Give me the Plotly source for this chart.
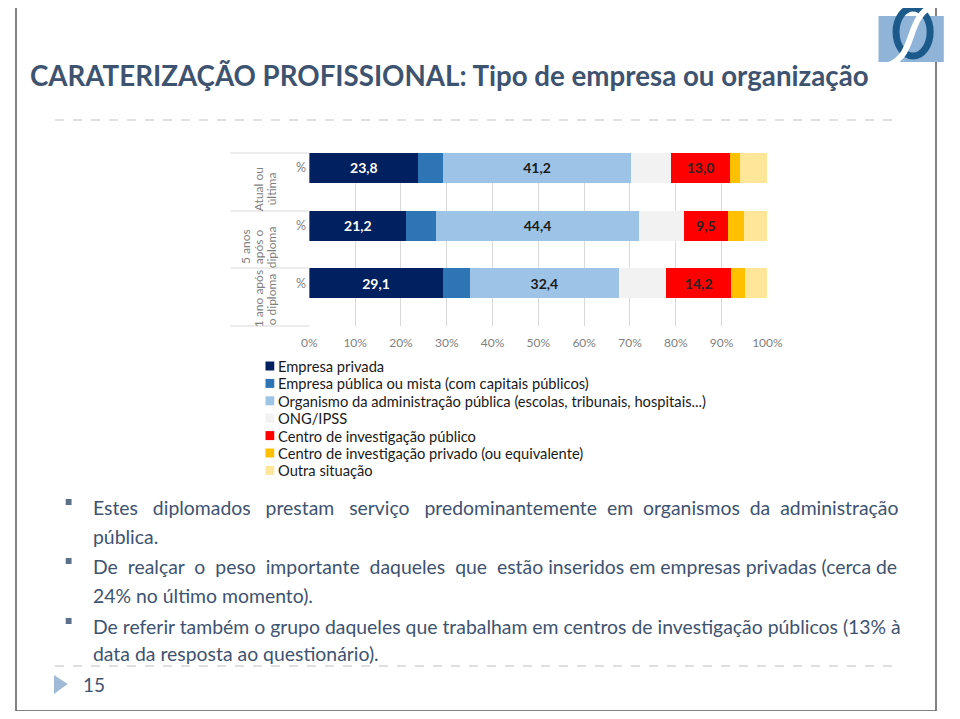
import plotly.graph_objects as go

# the page adds an 8px body margin, so the figure is sized to fit inside the window
OFF = 8
W, H = 960 - 2 * OFF, 719 - 2 * OFF

# data
periods = ['1 ano após o diploma', '5 anos após o diploma', 'Atual ou última']
period_lines = [['1 ano após', 'o diploma'], ['5 anos', 'após o', 'diploma'], ['Atual ou', 'última']]
series = [
    'Empresa privada',
    'Empresa pública ou mista (com capitais públicos)',
    'Organismo da administração pública (escolas, tribunais, hospitais...)',
    'ONG/IPSS',
    'Centro de investigação público',
    'Centro de investigação privado (ou equivalente)',
    'Outra situação',
]
empresa_privada = [29.1, 21.2, 23.8]
empresa_publica = [6.0, 6.4, 5.3]
organismo_admin = [32.4, 44.4, 41.2]
ong_ipss = [10.4, 9.8, 8.6]
inv_publico = [14.2, 9.5, 13.0]
inv_privado = [3.0, 3.6, 2.1]
outra = [4.9, 5.1, 6.0]
values = [empresa_privada, empresa_publica, organismo_admin, ong_ipss,
          inv_publico, inv_privado, outra]
labelled = [True, False, True, False, True, False, False]
colors = ['#002060', '#2e75b6', '#9dc3e6', '#f2f2f2', '#ff0000', '#ffc000', '#ffe699']
text_colors = ['#ffffff', None, '#1a1a1a', None, '#262626', None, None]

bullets = [
    'Estes diplomados prestam serviço predominantemente em organismos da administração',
    'pública.',
    'De realçar o peso importante daqueles que estão inseridos em empresas privadas (cerca de',
    '24% no último momento).',
    'De referir também o grupo daqueles que trabalham em centros de investigação públicos (13% à',
    'data da resposta ao questionário).',
]
extra_spaces = [12, 0, 7, 0, 0, 0]   # rough justification

FONT = 'Lato'
SLATE = '#3e5370'


def px(x):
    return (x - OFF) / W


def py(y):
    return 1 - (y - OFF) / H


def justify(txt, n):
    words = txt.split(' ')
    gaps = len(words) - 1
    if n == 0 or gaps == 0:
        return txt
    out = words[0]
    for k, w in enumerate(words[1:]):
        pad = n // gaps + (1 if k < n % gaps else 0)
        out += ' ' + '&nbsp;' * pad + w
    return out


fig = go.Figure()
for name, vals, lab, col, tcol in zip(series, values, labelled, colors, text_colors):
    fig.add_trace(go.Bar(
        y=periods, x=vals, name=name, orientation='h',
        marker=dict(color=col, line=dict(width=0)),
        width=0.52, offset=-0.02,
        text=[f'{v:.1f}'.replace('.', ',') for v in vals] if lab else None,
        texttemplate='<b>%{text}</b>' if lab else None,
        textposition='inside' if lab else 'none',
        insidetextanchor='middle', textangle=0,
        textfont=dict(family=FONT, size=14, color=tcol or '#000'),
        hoverinfo='skip',
    ))

shapes = []
annotations = []

# slide border (left, right, bottom) and dashed separators
for x0, x1, y0, y1 in ((0, 0, 0, 1), (1, 1, 0, 1), (0, 1, 0, 0)):
    shapes.append(dict(type='line', xref='paper', yref='paper', x0=x0, x1=x1, y0=y0, y1=y1,
                       line=dict(color='#595959', width=1.5)))
for yy in (120, 666):
    shapes.append(dict(type='line', xref='paper', yref='paper', x0=px(48), x1=px(912), y0=py(yy), y1=py(yy),
                       line=dict(color='#bfbfbf', width=1, dash='dash')))

# logo (approximation)
shapes.append(dict(type='rect', xref='paper', yref='paper', x0=px(893), x1=px(960), y0=py(62), y1=py(16),
                   fillcolor='#8fb4d8', line=dict(width=0)))
shapes.append(dict(type='circle', xref='paper', yref='paper', x0=px(911), x1=px(946), y0=py(56), y1=py(8),
                   line=dict(color='#1d5a8c', width=7)))
shapes.append(dict(type='path', xref='paper', yref='paper',
                   path=f'M {px(893)},{py(68)} C {px(935)},{py(62)} {px(918)},{py(20)} {px(948)},{py(6)}',
                   line=dict(color='white', width=6)))

# category axis separators
for yy in (153, 211, 268, 326):
    shapes.append(dict(type='line', xref='paper', yref='paper', x0=px(228), x1=px(309), y0=py(yy), y1=py(yy),
                       line=dict(color='#d9d9d9', width=1)))

label_cy = [299, 247, 189]
for i, lines in enumerate(period_lines):
    n = len(lines)
    for j, ln in enumerate(lines):
        xc = 270 - 13.5 * (n - 1 - j)
        annotations.append(dict(xref='paper', yref='paper', x=px(xc), y=py(label_cy[i]), text=ln,
                                textangle=-90, showarrow=False, xanchor='center', yanchor='middle',
                                font=dict(family=FONT, size=12, color='#7f7f7f')))
    annotations.append(dict(xref='paper', yref='y', x=px(293), y=i + 0.24, text='%',
                            showarrow=False, font=dict(family=FONT, size=12.5, color='#7f7f7f')))

# legend (custom, tight like the original)
for i, (name, col) in enumerate(zip(series, colors)):
    yc = 366 + 17.4 * i
    shapes.append(dict(type='rect', xref='paper', yref='paper', x0=px(264), x1=px(273),
                       y0=py(yc + 4.5), y1=py(yc - 4.5), fillcolor=col, line=dict(width=0)))
    annotations.append(dict(xref='paper', yref='paper', x=px(275), y=py(yc), xanchor='left', yanchor='middle',
                            text=name, showarrow=False, font=dict(family=FONT, size=14.7, color='#1a1a1a')))

# title
annotations.append(dict(xref='paper', yref='paper', x=px(20), y=py(75), xanchor='left', yanchor='middle',
                        text='<b>CARATERIZAÇÃO PROFISSIONAL: Tipo de empresa ou organização</b>',
                        showarrow=False, font=dict(family=FONT, size=27.7, color=SLATE)))

# bullet text
line_y = [507, 536, 566, 595, 626, 653]
for i, (txt, n, yy) in enumerate(zip(bullets, extra_spaces, line_y)):
    annotations.append(dict(xref='paper', yref='paper', x=px(85), y=py(yy), xanchor='left', yanchor='middle',
                            text=justify(txt, n), showarrow=False,
                            font=dict(family=FONT, size=19.4, color=SLATE)))
    if i % 2 == 0:
        shapes.append(dict(type='rect', xref='paper', yref='paper', x0=px(59), x1=px(65),
                           y0=py(yy - 2), y1=py(yy - 8), fillcolor='#5b7089', line=dict(width=0)))

# page number
shapes.append(dict(type='path', xref='paper', yref='paper',
                   path=f'M {px(47)},{py(675)} L {px(61)},{py(684)} L {px(47)},{py(694)} Z',
                   fillcolor='#9fbad6', line=dict(width=0)))
annotations.append(dict(xref='paper', yref='paper', x=px(75), y=py(684), xanchor='left', yanchor='middle',
                        text='15', showarrow=False, font=dict(family=FONT, size=19, color=SLATE)))

fig.update_layout(
    width=W, height=H,
    margin=dict(l=0, r=0, t=0, b=0),
    paper_bgcolor='white', plot_bgcolor='white',
    barmode='stack', showlegend=False,
    uniformtext=dict(mode='show', minsize=8),
    xaxis=dict(domain=[px(309), px(779)], range=[0, 100], dtick=10, ticksuffix='%',
               ticks='outside', ticklen=6, tickcolor='rgba(0,0,0,0)',
               showgrid=True, gridcolor='#d9d9d9', zeroline=False, showline=False,
               tickfont=dict(family=FONT, size=12, color='#7f7f7f'), fixedrange=True),
    yaxis=dict(domain=[py(326), py(153)], range=[-0.5, 2.5], type='category',
               showticklabels=False, showgrid=False, zeroline=False, showline=False, fixedrange=True),
    shapes=shapes,
    annotations=annotations,
)

fig.write_html('out.html')
